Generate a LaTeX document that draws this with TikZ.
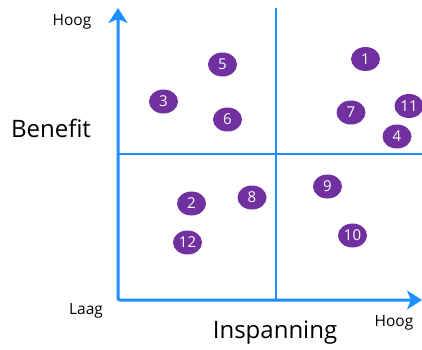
\documentclass[tikz,border=0pt]{standalone}
\usepackage{fontspec}
\setmainfont{Open Sans}
\usetikzlibrary{arrows.meta,shapes.geometric}
\definecolor{axisblue}{HTML}{1E8FFF}
\definecolor{dotpurple}{HTML}{7030A0}
\tikzset{
  axisline/.style={draw=axisblue, line width=3pt, rounded corners=2pt,
    arrows={Stealth[length=15pt,width=19pt,inset=4pt]-Stealth[length=15pt,width=19pt,inset=4pt]}},
  midline/.style={draw=axisblue, line width=2pt},
  dot/.style={ellipse, fill=dotpurple, minimum width=29pt, minimum height=24pt, inner sep=0pt,
    text=white, font=\fontsize{15}{15}\selectfont},
  small/.style={font=\fontsize{15.5}{16}\selectfont, text=black},
  big/.style={font=\fontsize{24}{26}\selectfont, text=black}
}
\begin{document}
\begin{tikzpicture}[x=1pt,y=-1pt]
\useasboundingbox (0,0) rectangle (422,349);
\coordinate (O) at (118,300);
\coordinate (Ytip) at (118,8);
\coordinate (Xtip) at (422,300);
\coordinate (mt) at (276,8);
\coordinate (mb) at (276,300);
\coordinate (ml) at (118,154);
\coordinate (mr) at (422,154);
\draw[midline] (mt) -- (mb);
\draw[midline] (ml) -- (mr);
\draw[axisline] (Ytip) -- (O) -- (Xtip);
\node[small] (hy) at (72,22) {Hoog};
\node[big] (ben) at (51,128) {Benefit};
\node[small] (laag) at (86,311) {Laag};
\node[small] (hx) at (394,323) {Hoog};
\node[big] (insp) at (275,333) {Inspanning};
\node[dot] (d1) at (365.5,59) {1};
\node[dot] (d2) at (191.5,203.5) {2};
\node[dot] (d3) at (163.5,101.5) {3};
\node[dot] (d4) at (397,136.5) {4};
\node[dot] (d5) at (222.5,64.5) {5};
\node[dot] (d6) at (227.5,119.5) {6};
\node[dot] (d7) at (351,112.5) {7};
\node[dot] (d8) at (252,197.5) {8};
\node[dot] (d9) at (327.5,186.5) {9};
\node[dot] (d10) at (352.5,235.5) {10};
\node[dot] (d11) at (409,106) {11};
\node[dot] (d12) at (187.5,242.5) {12};
\end{tikzpicture}
\end{document}
